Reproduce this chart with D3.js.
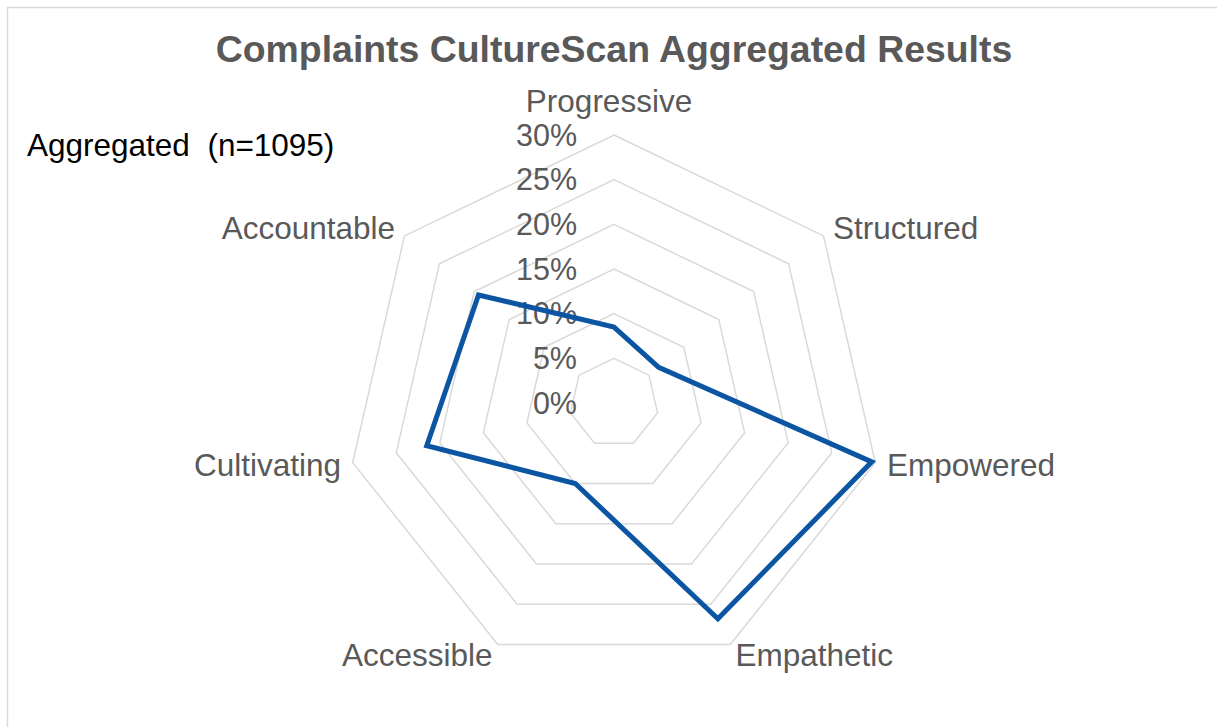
<!DOCTYPE html>
<html>
<head>
<meta charset="utf-8">
<script src="https://cdnjs.cloudflare.com/ajax/libs/d3/7.8.5/d3.min.js"></script>
<style>
  body { margin: 0; background: #ffffff; }
  text { font-family: "Liberation Sans", Arial, sans-serif; }
</style>
</head>
<body>
<div id="radarContainer"></div>
<script>

// data van de grafiek
var categorieen = ["Progressive", "Structured", "Empowered", "Empathetic",
                   "Accessible", "Cultivating", "Accountable"];
var waarden = [0.085, 0.064, 0.296, 0.268, 0.100, 0.215, 0.194];
var ticks = [0, 0.05, 0.10, 0.15, 0.20, 0.25, 0.30];
var titel = "Complaints CultureScan Aggregated Results";
var legendaTekst = "Aggregated  (n=1095)";

var breedte = 1217;
var hoogte = 727;
var midden = {x: 614, y: 403};
var straal = 268;

// maak een SVG element
var svg = d3.select("#radarContainer")
            .append("svg")
            .attr("width", breedte)
            .attr("height", hoogte);

// rand om de grafiek
svg.append("rect")
   .attr("x", 7.5)
   .attr("y", 7.5)
   .attr("width", 1300)
   .attr("height", 900)
   .attr("fill", "white")
   .attr("stroke", "#d9d9d9")
   .attr("stroke-width", 1.5);

// titel
svg.append("text")
   .attr("x", 614)
   .attr("y", 62)
   .attr("text-anchor", "middle")
   .attr("font-size", "37.4px")
   .attr("font-weight", "bold")
   .attr("fill", "#595959")
   .text(titel);

// legenda (alleen tekst)
svg.append("text")
   .attr("x", 27)
   .attr("y", 156)
   .attr("font-size", "31.5px")
   .attr("fill", "#000000")
   .style("white-space", "pre")
   .text(legendaTekst);

// schaalfuncties
var r = d3.scaleLinear()
          .domain([0, 0.3])
          .range([0, straal]);

var hoek = d3.scaleLinear()
             .domain([0, categorieen.length])
             .range([0, 2 * Math.PI]);

var g = svg.append("g")
           .attr("transform", "translate(" + midden.x + "," + midden.y + ")");

// rasterlijnen (zevenhoeken)
var ring = d3.lineRadial()
             .angle(function(d, i) { return hoek(i); })
             .curve(d3.curveLinearClosed);

g.selectAll(".raster")
 .data(ticks.filter(function(t) { return t > 0; }))
 .enter()
 .append("path")
 .attr("class", "raster")
 .attr("d", function(t) {
   return ring.radius(function() { return r(t); })(categorieen);
 })
 .attr("fill", "none")
 .attr("stroke", "#d9d9d9")
 .attr("stroke-width", 1.5);

// waarden op de as
g.selectAll(".tickLabel")
 .data(ticks)
 .enter()
 .append("text")
 .attr("class", "tickLabel")
 .attr("x", -37)
 .attr("y", function(t) { return -r(t); })
 .attr("dy", "0.35em")
 .attr("text-anchor", "end")
 .attr("font-size", "30.5px")
 .attr("fill", "#595959")
 .text(d3.format(".0%"));

// de lijn met de data
var lijn = d3.lineRadial()
             .angle(function(d, i) { return hoek(i); })
             .radius(function(d) { return r(d); })
             .curve(d3.curveLinearClosed);

g.append("path")
 .datum(waarden)
 .attr("d", lijn)
 .attr("fill", "none")
 .attr("stroke", "#0b55a3")
 .attr("stroke-width", 5)
 .attr("stroke-linejoin", "miter");

// categorie labels
g.selectAll(".catLabel")
 .data(categorieen)
 .enter()
 .append("text")
 .attr("class", "catLabel")
 .attr("x", function(d, i) { return (straal + 12) * Math.sin(hoek(i)) - (i == 0 ? 5 : 0); })
 .attr("y", function(d, i) { return -(straal + 12) * Math.cos(hoek(i)); })
 .attr("dy", function(d, i) { return i == 0 ? "-0.35em" : "0.35em"; })
 .attr("text-anchor", function(d, i) {
   var s = Math.sin(hoek(i));
   if (s > 0.1) { return "start"; }
   if (s < -0.1) { return "end"; }
   return "middle";
 })
 .attr("font-size", "31.5px")
 .attr("fill", "#595959")
 .text(function(d) { return d; });

</script>
</body>
</html>
